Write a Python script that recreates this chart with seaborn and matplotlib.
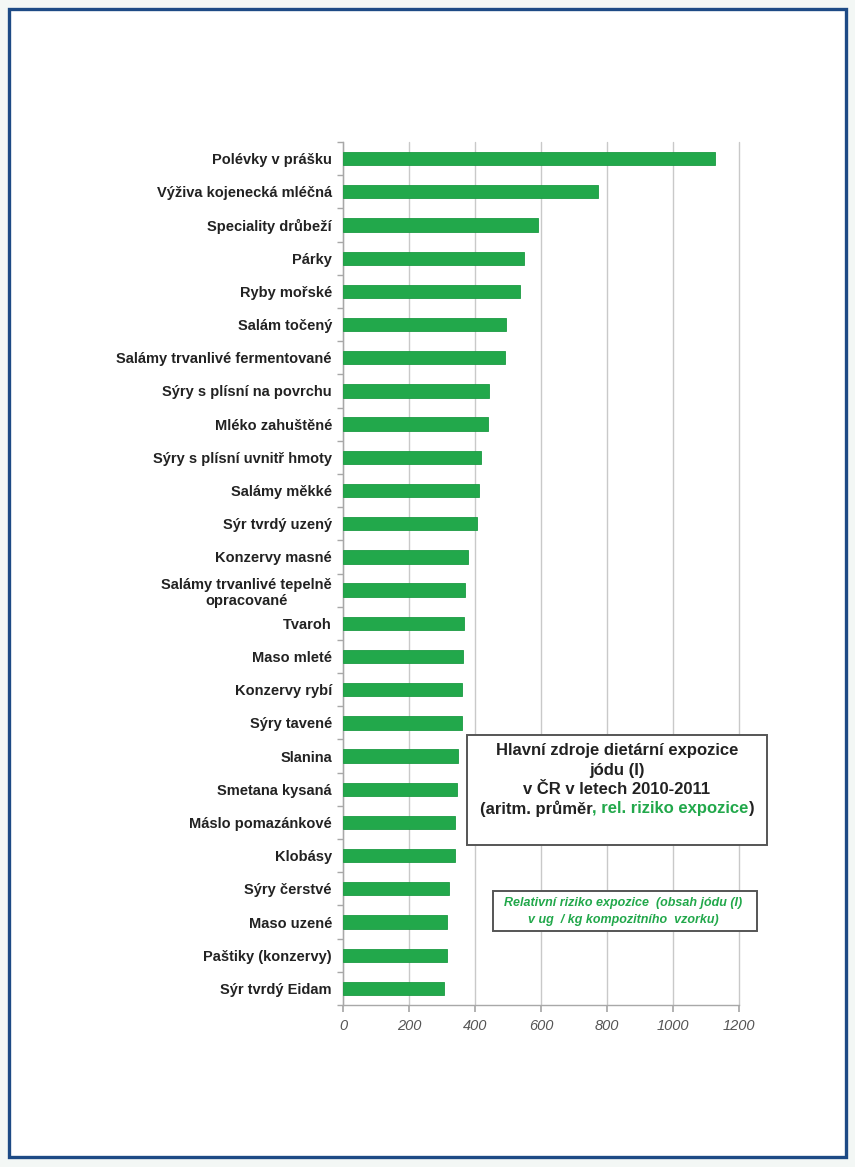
import matplotlib
matplotlib.use("Agg")
import matplotlib.pyplot as plt
from matplotlib.patches import Rectangle
import seaborn as sns
import pandas as pd

categories = [
    "Polévky v prášku",
    "Výživa kojenecká mléčná",
    "Speciality drůbeží",
    "Párky",
    "Ryby mořské",
    "Salám točený",
    "Salámy trvanlivé fermentované",
    "Sýry s plísní na povrchu",
    "Mléko zahuštěné",
    "Sýry s plísní uvnitř hmoty",
    "Salámy měkké",
    "Sýr tvrdý uzený",
    "Konzervy masné",
    "Salámy trvanlivé tepelně\nopracované",
    "Tvaroh",
    "Maso mleté",
    "Konzervy rybí",
    "Sýry tavené",
    "Slanina",
    "Smetana kysaná",
    "Máslo pomazánkové",
    "Klobásy",
    "Sýry čerstvé",
    "Maso uzené",
    "Paštiky (konzervy)",
    "Sýr tvrdý Eidam",
]
values = [1127, 772, 591, 548, 536, 493, 491, 443, 440, 417, 411, 406, 380,
          369, 367, 364, 362, 361, 347, 346, 340, 339, 322, 316, 315, 306]
x_ticks = [0, 200, 400, 600, 800, 1000, 1200]

title_lines = ["Hlavní zdroje dietární expozice", "jódu (I)", "v ČR v letech 2010-2011"]
title_last = ["(aritm. průměr", ", rel. riziko expozice", ")"]
note_lines = ["Relativní riziko expozice  (obsah jódu (I)", "v ug  / kg kompozitního  vzorku)"]

sns.set_theme(style="white")
plt.rcParams["font.family"] = ["Liberation Sans", "DejaVu Sans"]

W, H = 855, 1167
fig = plt.figure(figsize=(W / 100, H / 100), dpi=100)
fig.patch.set_facecolor("#f3f7f5")


def fx(px):
    return px / W


def fy(py):
    return 1 - py / H


# outer frame
fig.add_artist(Rectangle((fx(9), fy(1157)), fx(846) - fx(9), fy(9) - fy(1157),
                         transform=fig.transFigure, facecolor="white",
                         edgecolor="#1d4a85", linewidth=2.4, zorder=0))

ax = fig.add_axes([fx(343), fy(1005), fx(739) - fx(343), fy(142) - fy(1005)])
ax.set_facecolor("none")

df = pd.DataFrame({"cat": categories, "val": values})
sns.barplot(data=df, y="cat", x="val", orient="h", color="#22a84b",
            saturation=1, width=0.4, edgecolor="#1b9a42", linewidth=0.6, ax=ax, zorder=3)

ax.set_xlim(0, 1200)
ax.set_ylim(len(categories) - 0.5, -0.5)
ax.set_xticks(x_ticks)
ax.set_xticklabels([str(t) for t in x_ticks], fontstyle="italic", color="#555555", fontsize=10.5)
ax.set_xlabel("")
ax.set_ylabel("")
ax.xaxis.grid(True, color="#c9c9c9", linewidth=1.0, zorder=0)
for gl in ax.get_xgridlines():
    gl.set_clip_on(False)
ax.set_axisbelow(True)

for s in ["top", "right"]:
    ax.spines[s].set_visible(False)
for s in ["left", "bottom"]:
    ax.spines[s].set_color("#a8a8a8")
    ax.spines[s].set_linewidth(1.0)

ax.tick_params(axis="x", length=5, color="#a8a8a8", direction="out", pad=5, bottom=True)
ax.tick_params(axis="y", which="major", length=0, pad=8)
ax.set_yticks([i - 0.5 for i in range(len(categories) + 1)], minor=True)
ax.tick_params(axis="y", which="minor", length=4, color="#a8a8a8", direction="out", left=True)

for lbl in ax.get_yticklabels():
    lbl.set_fontweight("bold")
    lbl.set_fontsize(10.5)
    lbl.set_color("#222222")
    lbl.set_multialignment("center")
    lbl.set_linespacing(1.25)

# title box
fig.add_artist(Rectangle((fx(467), fy(845)), fx(767) - fx(467), fy(735) - fy(845),
                         transform=fig.transFigure, facecolor="white",
                         edgecolor="#555555", linewidth=1.4, zorder=5))
for i, line in enumerate(title_lines):
    fig.text(fx(617), fy(750 + 20 * i), line, ha="center", va="center", fontsize=12,
             fontweight="bold", color="#222222", zorder=6)

colors = ["#222222", "#22a84b", "#222222"]
parts = [fig.text(0, fy(809), p, ha="left", va="center", fontsize=12,
                  fontweight="bold", color=c, zorder=6) for p, c in zip(title_last, colors)]
renderer = fig.canvas.get_renderer()
widths = [p.get_window_extent(renderer).width for p in parts]
start = 617 - sum(widths) / 2
for p, w in zip(parts, widths):
    p.set_x(fx(start))
    start += w

# note box
fig.add_artist(Rectangle((fx(493), fy(931)), fx(757) - fx(493), fy(891) - fy(931),
                         transform=fig.transFigure, facecolor="white",
                         edgecolor="#555555", linewidth=1.4, zorder=5))
for i, line in enumerate(note_lines):
    fig.text(fx(623), fy(903 + 17 * i), line, ha="center", va="center", fontsize=9,
             fontweight="bold", fontstyle="italic", color="#22a84b", zorder=6)

fig.savefig("out.png", dpi=100, facecolor=fig.get_facecolor())
